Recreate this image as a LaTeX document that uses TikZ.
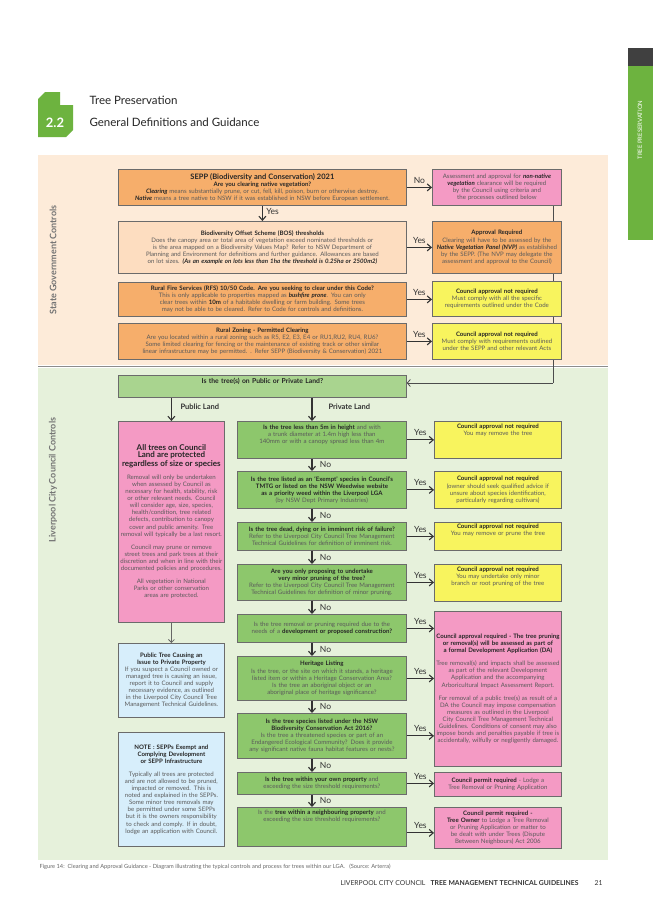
\documentclass[tikz,border=0pt]{standalone}
\usepackage{fontspec}
\setmainfont{Lato}
\usetikzlibrary{arrows.meta}
\hyphenpenalty=10000
\exhyphenpenalty=10000
\definecolor{bandorange}{HTML}{FDEBD9}
\definecolor{bandgreen}{HTML}{E6F1DB}
\definecolor{boxorange}{HTML}{F6AE6B}
\definecolor{boxpeach}{HTML}{FDDDC0}
\definecolor{boxpink}{HTML}{F49AC4}
\definecolor{boxyellow}{HTML}{F8F45E}
\definecolor{boxgreen}{HTML}{8DC76C}
\definecolor{boxlgreen}{HTML}{A9D48F}
\definecolor{boxblue}{HTML}{D7EEFB}
\definecolor{leafgreen}{HTML}{6DB33F}
\definecolor{bodygray}{HTML}{5A5A5A}
\definecolor{edgegray}{HTML}{6B6B6B}
\newcommand{\tx}{\fontsize{6.1}{7.1}\selectfont}
\newcommand{\hd}[1]{{\color{black!85}\bfseries #1}}
\begin{document}
\begin{tikzpicture}
		[x=1pt, y=-1pt,
		 flowbox/.style={draw=edgegray, line width=0.8pt, anchor=north west, align=center, inner sep=1.5pt, text=bodygray, font=\tx},
		 flow/.style={line width=1.1pt, black!80, -{Straight Barb[length=4pt, width=7pt]}},
		 answer/.style={font=\fontsize{8.5}{9}\selectfont, text=black!80}]
		\useasboundingbox (0,0) rectangle (653,924);
		% page decoration
		\fill[white] (0,0) rectangle (653,924);
		\fill[black!75] (628,48) rectangle (653,66);
		\fill[leafgreen] (628,66) rectangle (653,240);
		\node[rotate=90, text=white, font=\fontsize{6}{7}\selectfont] (tab) at (640,130) {TREE PRESERVATION};
		\fill[leafgreen] (45,92) -- (60,92) -- (60,105) -- (73,105) -- (73,130) -- (66,137) -- (38,137) -- (38,99) -- cycle;
		\node[text=white, font=\fontsize{13}{14}\bfseries] (num) at (55,123) {2.2};
		\node[anchor=west, font=\fontsize{11.5}{13}\selectfont, text=black!85] (title) at (86,100) {Tree Preservation};
		\node[anchor=west, font=\fontsize{11.5}{13}\selectfont, text=black!85] (subtitle) at (86,122) {General Definitions and Guidance};
		\fill[bandorange] (38,155) rectangle (608,365);
		\fill[bandgreen] (38,368) rectangle (608,860);
		\draw[black!45, line width=1.2pt] (38,366.5) -- (608,366.5);
		\node[rotate=90, text=black!55, font=\fontsize{9}{10}\bfseries] (state) at (53,260) {State Government Controls};
		\node[rotate=90, text=black!55, font=\fontsize{9}{10}\bfseries] (council) at (53,480) {Liverpool City Council Controls};

		% return line behind the boxes
		\coordinate (turn) at (553,383);
		\draw[line width=0.8pt, black!70] (553,205) -- (turn);

		% state government boxes
		\node[flowbox, fill=boxorange, minimum width=288pt, minimum height=36pt, text width=285pt] (sepp) at (118,169)
			{{\fontsize{7.5}{8.5}\selectfont\hd{SEPP (Biodiversity and Conservation) 2021}}\\ \hd{Are you clearing native vegetation?}\\ \textit{\hd{Clearing}} means substantially prune, or cut, fell, kill, poison, burn or otherwise destroy.\\ \textit{\hd{Native}} means a tree native to NSW if it was established in NSW before European settlement.};
		\node[flowbox, fill=boxpink, minimum width=129pt, minimum height=36pt, text width=126pt] (nonnative) at (432,169)
			{Assessment and approval for \textit{\hd{non-native vegetation}} clearance will be required by the Council using criteria and the processes outlined below};
		\node[flowbox, fill=boxpeach, minimum width=288pt, minimum height=52pt, text width=285pt] (bos) at (118,221)
			{\hd{Biodiversity Offset Scheme (BOS) thresholds}\\ Does the canopy area or total area of vegetation exceed nominated thresholds or is the area mapped on a Biodiversity Values Map? Refer to NSW Department of Planning and Environment for definitions and further guidance. Allowances are based on lot sizes. \textit{\hd{(As an example on lots less than 1ha the threshold is 0.25ha or 2500m2)}}};
		\node[flowbox, fill=boxorange, minimum width=129pt, minimum height=52pt, text width=126pt] (nvp) at (432,221)
			{\hd{Approval Required}\\ Clearing will have to be assessed by the \textit{\hd{Native Vegetation Panel (NVP)}} as established by the SEPP. (The NVP may delegate the assessment and approval to the Council)};
		\node[flowbox, fill=boxorange, minimum width=288pt, minimum height=34pt, text width=285pt] (rfs) at (118,282)
			{\hd{Rural Fire Services (RFS) 10/50 Code. Are you seeking to clear under this Code?}\\ This is only applicable to properties mapped as \textit{\hd{bushfire prone}}. You can only clear trees within \hd{10m} of a habitable dwelling or farm building. Some trees may not be able to be cleared. Refer to Code for controls and definitions.};
		\node[flowbox, fill=boxyellow, minimum width=129pt, minimum height=35pt, text width=126pt] (rfsok) at (432,281)
			{\hd{Council approval not required}\\ Must comply with all the specific requirements outlined under the Code};
		\node[flowbox, fill=boxorange, minimum width=288pt, minimum height=36pt, text width=285pt] (rural) at (118,323)
			{\hd{Rural Zoning - Permitted Clearing}\\ Are you located within a rural zoning such as R5, E2, E3, E4 or RU1,RU2, RU4, RU6? Some limited clearing for fencing or the maintenance of existing track or other similar linear infrastructure may be permitted. . Refer SEPP (Biodiversity \& Conservation) 2021};
		\node[flowbox, fill=boxyellow, minimum width=129pt, minimum height=36pt, text width=126pt] (ruralok) at (432,323)
			{\hd{Council approval not required}\\ Must comply with requirements outlined under the SEPP and other relevant Acts};

		% council boxes
		\node[flowbox, fill=boxlgreen, minimum width=288pt, minimum height=22pt, text width=285pt, font=\fontsize{6.8}{7.5}\selectfont] (land) at (118,375)
			{\hd{Is the tree(s) on Public or Private Land?}\\[4pt]\mbox{}};
		\node[flowbox, fill=boxpink, minimum width=106pt, minimum height=201pt, text width=103pt] (public) at (118,421)
			{{\fontsize{8}{9.5}\selectfont\hd{All trees on Council Land are protected regardless of size or species}}\\[6pt] Removal will only be undertaken when assessed by Council as necessary for health, stability, risk or other relevant needs. Council will consider age, size, species, health/condition, tree related defects, contribution to canopy cover and public amenity. Tree removal will typically be a last resort.\\[6pt] Council may prune or remove street trees and park trees at their discretion and when in line with their documented policies and procedures.\\[6pt] All vegetation in National Parks or other conservation areas are protected.};
		\node[flowbox, fill=boxblue, minimum width=106pt, minimum height=74pt, text width=103pt] (issue) at (118,643)
			{\hd{Public Tree Causing an Issue to Private Property}\\ If you suspect a Council owned or managed tree is causing an issue, report it to Council and supply necessary evidence, as outlined in the Liverpool City Council Tree Management Technical Guidelines.};
		\node[flowbox, fill=boxblue, minimum width=106pt, minimum height=114pt, text width=103pt] (note) at (118,732)
			{\hd{NOTE : SEPPs Exempt and Complying Development or SEPP Infrastructure}\\[6pt] Typically all trees are protected and are not allowed to be pruned, impacted or removed. This is noted and explained in the SEPPs. Some minor tree removals may be permitted under some SEPPs but it is the owners responsibility to check and comply. If in doubt, lodge an application with Council.};

		\node[flowbox, fill=boxgreen, minimum width=169pt, minimum height=37pt, text width=166pt] (small) at (237,421)
			{\hd{Is the tree less than 5m in height} and with a trunk diameter at 1.4m high less than 140mm or with a canopy spread less than 4m\\[5pt]\mbox{}};
		\node[flowbox, fill=boxgreen, minimum width=169pt, minimum height=37pt, text width=166pt] (exempt) at (237,471)
			{\hd{Is the tree listed as an `Exempt' species in Council's TMTG or listed on the NSW Weedwise website as a priority weed within the Liverpool LGA}\\ (by NSW Dept Primary Industries)};
		\node[flowbox, fill=boxgreen, minimum width=169pt, minimum height=28pt, text width=166pt] (dead) at (237,522)
			{\hd{Is the tree dead, dying or in imminent risk of failure?}\\ Refer to the Liverpool City Council Tree Management Technical Guidelines for definition of imminent risk.};
		\node[flowbox, fill=boxgreen, minimum width=169pt, minimum height=36pt, text width=166pt] (minor) at (237,564)
			{\hd{Are you only proposing to undertake very minor pruning of the tree?}\\ Refer to the Liverpool City Council Tree Management Technical Guidelines for definition of minor pruning.};
		\node[flowbox, fill=boxgreen, minimum width=169pt, minimum height=28pt, text width=166pt] (devel) at (237,614)
			{Is the tree removal or pruning required due to the needs of a \hd{development or proposed construction?}};
		\node[flowbox, fill=boxgreen, minimum width=169pt, minimum height=44pt, text width=166pt] (heritage) at (237,656)
			{\hd{Heritage Listing}\\ Is the tree, or the site on which it stands, a heritage listed item or within a Heritage Conservation Area?\\ Is the tree an aboriginal object or an aboriginal place of heritage significance?};
		\node[flowbox, fill=boxgreen, minimum width=169pt, minimum height=45pt, text width=166pt] (biodiv) at (237,713)
			{\hd{Is the tree species listed under the NSW Biodiversity Conservation Act 2016?}\\ Is the tree a threatened species or part of an Endangered Ecological Community? Does it provide any significant native fauna habitat features or nests?};
		\node[flowbox, fill=boxgreen, minimum width=169pt, minimum height=22pt, text width=166pt] (own) at (237,772)
			{\hd{Is the tree within your own property} and exceeding the size threshold requirements?};
		\node[flowbox, fill=boxgreen, minimum width=169pt, minimum height=39pt, text width=166pt] (neighbour) at (237,807)
			{Is the \hd{tree within a neighbouring property} and exceeding the size threshold requirements?\\[16pt]\mbox{}};

		\node[flowbox, fill=boxyellow, minimum width=127pt, minimum height=37pt, text width=124pt] (smallok) at (434,421)
			{\hd{Council approval not required}\\ You may remove the tree\\[14pt]\mbox{}};
		\node[flowbox, fill=boxyellow, minimum width=127pt, minimum height=37pt, text width=124pt] (exemptok) at (434,471)
			{\hd{Council approval not required}\\ (owner should seek qualified advice if unsure about species identification, particularly regarding cultivars)};
		\node[flowbox, fill=boxyellow, minimum width=127pt, minimum height=28pt, text width=124pt] (deadok) at (434,522)
			{\hd{Council approval not required}\\ You may remove or prune the tree\\[6pt]\mbox{}};
		\node[flowbox, fill=boxyellow, minimum width=127pt, minimum height=37pt, text width=124pt] (minorok) at (434,564)
			{\hd{Council approval not required}\\ You may undertake only minor branch or root pruning of the tree\\[6pt]\mbox{}};
		\node[flowbox, fill=boxpink, minimum width=127pt, minimum height=155pt, text width=124pt] (da) at (434,611)
			{\hd{Council approval required - The tree pruning or removal(s) will be assessed as part of a formal Development Application (DA)}\\[6pt] Tree removal(s) and impacts shall be assessed as part of the relevant Development Application and the accompanying Arboricultural Impact Assessment Report.\\[6pt] For removal of a public tree(s) as result of a DA the Council may impose compensation measures as outlined in the Liverpool City Council Tree Management Technical Guidelines. Conditions of consent may also impose bonds and penalties payable if tree is accidentally, wilfully or negligently damaged.};
		\node[flowbox, fill=boxpink, minimum width=127pt, minimum height=24pt, text width=124pt] (permit) at (434,772)
			{\hd{Council permit required} - Lodge a Tree Removal or Pruning Application};
		\node[flowbox, fill=boxpink, minimum width=127pt, minimum height=41pt, text width=124pt] (owner) at (434,807)
			{\hd{Council permit required -}\\ \hd{Tree Owner} to Lodge a Tree Removal or Pruning Application or matter to be dealt with under Trees (Dispute Between Neighbours) Act 2006};

		% connectors
		\draw[flow] (sepp.east) to node[answer, above] {No} (nonnative.west);
		\draw[flow] (sepp.south) to node[answer, right, pos=0.4] {Yes} (bos.north);
		\draw[flow] (bos.east) to node[answer, above] {Yes} (nvp.west);
		\draw[flow] (rfs.east) to node[answer, above] {Yes} (rfs.east -| rfsok.west);
		\draw[flow] (rural.east) to node[answer, above] {Yes} (ruralok.west);
		\draw[line width=0.8pt, black!70, -{Straight Barb[length=3pt, width=7pt]}] (turn) -- (land.east |- turn);
		\draw[flow] (land.south -| public.north) to (public.north);
		\node[answer, anchor=west, font=\fontsize{7.5}{8}\bfseries] (publab) at (177,407) {Public Land};
		\draw[flow] (land.south -| 312,0) to (small.north -| 312,0);
		\node[answer, anchor=west, font=\fontsize{7.5}{8}\bfseries] (privlab) at (325,407) {Private Land};
		\draw[line width=0.8pt, black!60, -{Straight Barb[length=3pt, width=6pt]}] (public.south) -- (issue.north);

		\foreach \q/\r in {small/smallok, exempt/exemptok, dead/deadok, minor/minorok, own/permit}
			\draw[flow] (\q.east) to node[answer, above] {Yes} (\q.east -| \r.west);
		\foreach \q in {devel, heritage, biodiv}
			\draw[flow] (\q.east) to node[answer, above] {Yes} (\q.east -| da.west);
		\draw[flow] (neighbour.east) ++(0,6) coordinate (nbout) to node[answer, above] {Yes} (nbout -| owner.west);
		\foreach \a/\b in {small/exempt, exempt/dead, dead/minor, minor/devel, devel/heritage, heritage/biodiv, biodiv/own, own/neighbour}
			\draw[flow] (\a.south -| 312,0) to node[answer, right, xshift=4pt] {No} (\b.north -| 312,0);

		% caption and footer
		\node[anchor=west, text=black!60, font=\fontsize{5.7}{6}\selectfont] (caption) at (36,867) {Figure 14:\ \ Clearing and Approval Guidance - Diagram illustrating the typical controls and process for trees within our LGA.\ \ \ (Source: Arterra)};
		\node[anchor=east, text=black!80, font=\fontsize{6.8}{7}\selectfont] (footer) at (582,883) {LIVERPOOL CITY COUNCIL\ \ \ \textbf{TREE MANAGEMENT TECHNICAL GUIDELINES}};
		\node[anchor=east, text=black!80, font=\fontsize{6.8}{7}\selectfont] (page) at (606,883) {21};
	\end{tikzpicture}
\end{document}
